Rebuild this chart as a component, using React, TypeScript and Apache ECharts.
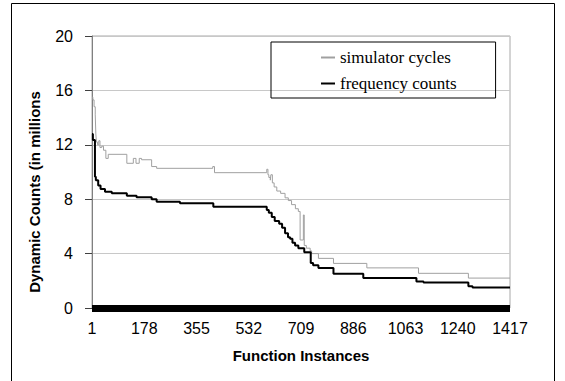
import React, { useEffect, useRef } from "react";
import * as echarts from "echarts";

const xTickLabels = [1, 178, 355, 532, 709, 886, 1063, 1240, 1417];
const yTicks = [0, 4, 8, 12, 16, 20];

const xTitle = "Function Instances";
const yTitle = "Dynamic Counts (in millions";

const simName = "simulator cycles";
const simX = [1, 4, 8, 12, 14, 16, 20, 24, 28, 34, 40, 48, 56, 119, 141, 150, 161, 169, 203, 220, 410, 416, 593, 597, 600, 605, 607, 612, 618, 627, 640, 655, 666, 677, 690, 700, 706, 717, 720, 727, 740, 745, 768, 819, 932, 1107, 1276, 1417];
const simY = [15.5, 15.3, 14.8, 14.2, 12.8, 12.2, 12.0, 12.3, 11.8, 11.9, 11.6, 11.0, 11.3, 10.64, 11.0, 10.64, 11.0, 10.9, 10.4, 10.27, 10.4, 9.95, 10.2, 9.8, 9.6, 9.4, 9.8, 9.2, 8.9, 8.6, 8.43, 8.1, 7.9, 7.6, 7.3, 7.1, 5.0, 6.84, 4.6, 4.4, 4.2, 4.0, 3.65, 3.28, 2.95, 2.55, 2.2, 2.2];

const freqName = "frequency counts";
const freqX = [1, 4, 11, 14, 22, 30, 45, 68, 119, 152, 203, 220, 299, 412, 593, 600, 610, 620, 635, 645, 655, 665, 672, 680, 689, 700, 720, 742, 750, 768, 819, 920, 1100, 1124, 1276, 1290, 1417];
const freqY = [12.8, 12.35, 9.65, 9.4, 9.0, 8.75, 8.55, 8.43, 8.25, 8.14, 8.0, 7.82, 7.7, 7.45, 7.2, 7.0, 6.7, 6.4, 6.2, 5.9, 5.5, 5.2, 5.1, 4.8, 4.6, 4.4, 4.1, 3.3, 3.15, 2.95, 2.52, 2.2, 1.95, 1.88, 1.6, 1.5, 1.5];

const zip = (xs: number[], ys: number[]) => xs.map((x, i) => [x, ys[i]]);

export default function App() {
  const ref = useRef<HTMLDivElement>(null);
  useEffect(() => {
    const chart = echarts.init(ref.current!, null, { renderer: "svg" });
    const sans = "'Liberation Sans', Arial, sans-serif";
    chart.setOption({
      animation: false,
      backgroundColor: "#ffffff",
      graphic: [
        {
          type: "rect",
          shape: { x: 11.5, y: 3.5, width: 543, height: 400 },
          style: { fill: "none", stroke: "#000", lineWidth: 1 },
          silent: true,
        },
        {
          type: "text",
          x: 34,
          y: 192,
          rotation: Math.PI / 2,
          style: {
            text: yTitle,
            fontFamily: sans,
            fontSize: 15,
            fontWeight: "bold",
            fill: "#000",
            align: "center",
            verticalAlign: "middle",
          },
          silent: true,
        },
      ],
      grid: {
        left: 92,
        right: 55,
        top: 36,
        bottom: 73,
        show: true,
        borderColor: "#a8a8a8",
        borderWidth: 1,
      },
      legend: {
        orient: "vertical",
        left: 271,
        top: 42,
        width: 229,
        padding: [7, 39, 6, 50],
        itemGap: 9,
        itemWidth: 14,
        itemHeight: 2,
        icon: "rect",
        borderColor: "#000",
        borderWidth: 1,
        textStyle: {
          fontFamily: "'Liberation Serif', 'Times New Roman', serif",
          fontSize: 17,
          color: "#000",
          lineHeight: 16,
        },
        data: [simName, freqName],
      },
      xAxis: {
        type: "value",
        min: 1,
        max: 1417,
        offset: 4,
        name: xTitle,
        nameLocation: "middle",
        nameGap: 36,
        nameTextStyle: { fontFamily: sans, fontSize: 15, fontWeight: "bold", color: "#000" },
        axisLine: { show: true, lineStyle: { color: "#000", width: 7, cap: "butt" } },
        axisTick: { show: false },
        splitLine: { show: false },
        axisLabel: {
          customValues: xTickLabels,
          formatter: (v: number) => String(v),
          fontFamily: sans,
          fontSize: 16,
          color: "#000",
          margin: 8,
        },
      },
      yAxis: {
        type: "value",
        min: yTicks[0],
        max: yTicks[yTicks.length - 1],
        interval: 4,
        axisLine: { show: true, lineStyle: { color: "#808080", width: 1 } },
        axisTick: { show: true, length: 7, lineStyle: { color: "#404040" } },
        splitLine: { show: true, lineStyle: { color: "#c8c8c8", width: 1 } },
        axisLabel: { fontFamily: sans, fontSize: 16, color: "#000", margin: 19 },
      },
      series: [
        {
          name: simName,
          type: "line",
          step: "end",
          symbol: "none",
          lineStyle: { color: "#a0a0a0", width: 1 },
          itemStyle: { color: "#a0a0a0" },
          data: zip(simX, simY),
        },
        {
          name: freqName,
          type: "line",
          step: "end",
          symbol: "none",
          lineStyle: { color: "#000", width: 2 },
          itemStyle: { color: "#000" },
          data: zip(freqX, freqY),
        },
      ],
    });
    return () => chart.dispose();
  }, []);
  return (
    <div
      ref={ref}
      style={{ position: "fixed", left: 0, top: 0, width: 565, height: 381, background: "#fff" }}
    />
  );
}
